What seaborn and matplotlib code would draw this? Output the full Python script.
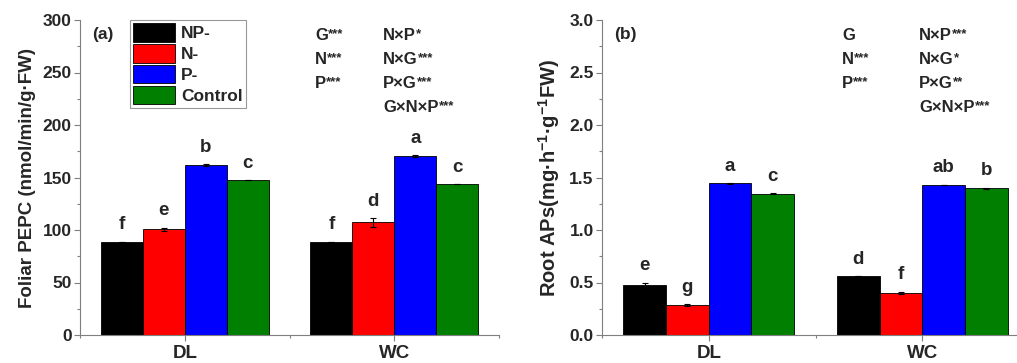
import matplotlib
matplotlib.use('Agg')
import matplotlib.pyplot as plt
import seaborn as sns
import pandas as pd
import numpy as np

# data
sites = ['DL', 'WC']
treatments = ['NP-', 'N-', 'P-', 'Control']
colors = ['#000000', '#FF0000', '#0000FF', '#007F00']

pepc_dl = [88.9, 100.6, 161.9, 147.3]
pepc_wc = [88.9, 107.3, 170.5, 143.8]
pepc_se_dl = [0.0, 1.5, 0.5, 0.0]
pepc_se_wc = [0.0, 4.0, 0.5, 0.0]
pepc_letters_dl = ['f', 'e', 'b', 'c']
pepc_letters_wc = ['f', 'd', 'a', 'c']

aps_dl = [0.475, 0.282, 1.443, 1.345]
aps_wc = [0.560, 0.402, 1.430, 1.399]
aps_se_dl = [0.025, 0.01, 0.003, 0.003]
aps_se_wc = [0.0, 0.012, 0.003, 0.005]
aps_letters_dl = ['e', 'g', 'a', 'c']
aps_letters_wc = ['d', 'f', 'ab', 'b']

# ANOVA terms and their significance stars
stats_a_col1 = [('G', '***'), ('N', '***'), ('P', '***')]
stats_a_col2 = [('N×P', '*'), ('N×G', '***'), ('P×G', '***'), ('G×N×P', '***')]
stats_b_col1 = [('G', ''), ('N', '***'), ('P', '***')]
stats_b_col2 = [('N×P', '***'), ('N×G', '*'), ('P×G', '**'), ('G×N×P', '***')]

sns.set_style('white')
plt.rcParams['font.family'] = ['Liberation Sans', 'DejaVu Sans']
plt.rcParams['font.weight'] = 'bold'
plt.rcParams['mathtext.fontset'] = 'custom'
plt.rcParams['mathtext.rm'] = 'Liberation Sans:bold'
plt.rcParams['mathtext.bf'] = 'Liberation Sans:bold'
plt.rcParams['mathtext.it'] = 'Liberation Sans:bold'
plt.rcParams['mathtext.default'] = 'rm'

AX_GRAY = '#7f7f7f'
W, H = 1017, 363


def make_df(dl, wc, se_dl, se_wc, let_dl, let_wc):
    rows = []
    for site, vals, ses, lets in [('DL', dl, se_dl, let_dl), ('WC', wc, se_wc, let_wc)]:
        for t, v, s, l in zip(treatments, vals, ses, lets):
            rows.append({'site': site, 'treatment': t, 'value': v, 'se': s, 'letter': l})
    return pd.DataFrame(rows)


def draw_panel(ax, df, ymax, ystep, ylabel, ylabel_size, tag, legend):
    sns.barplot(data=df, x='site', y='value', hue='treatment', order=sites,
                hue_order=treatments, palette=colors, errorbar=None,
                edgecolor='black', linewidth=0.6, saturation=1, ax=ax,
                legend=legend)
    # error bars and letters at bar positions
    for t, cont in zip(treatments, ax.containers):
        sub = df[df['treatment'] == t].set_index('site').loc[sites]
        xs = [p.get_x() + p.get_width() / 2 for p in cont.patches]
        ax.errorbar(xs, sub['value'], yerr=sub['se'], fmt='none', ecolor='black',
                    elinewidth=0.8, capsize=2.5, capthick=0.8)
        for x, v, s, l in zip(xs, sub['value'], sub['se'], sub['letter']):
            ax.annotate(l, (x, v + s), xytext=(0, 9), textcoords='offset points',
                        ha='center', va='baseline', fontsize=13.5, fontweight='bold')
    ax.set_xlim(-0.5, 1.5)
    ax.set_ylim(0, ymax)
    ax.set_yticks(np.arange(0, ymax + ystep / 2, ystep))
    ax.set_yticks(np.arange(ystep / 2, ymax, ystep), minor=True)
    ax.set_xticks([-0.5, 0.5, 1.5], minor=True)
    ax.set_xlabel('')
    ax.set_ylabel(ylabel, fontsize=ylabel_size, fontweight='bold', labelpad=5)
    sns.despine(ax=ax)
    for sp in ['left', 'bottom']:
        ax.spines[sp].set_color(AX_GRAY)
        ax.spines[sp].set_linewidth(0.8)
    ax.tick_params(axis='both', which='both', direction='out', color=AX_GRAY,
                   width=0.8, bottom=True, left=True)
    ax.tick_params(axis='both', which='major', length=4)
    ax.tick_params(axis='both', which='minor', length=2.2)
    ax.tick_params(axis='y', labelsize=12.5, pad=2)
    ax.tick_params(axis='x', labelsize=13.5, pad=3)
    for lab in ax.get_xticklabels() + ax.get_yticklabels():
        lab.set_fontweight('bold')
    ax.text(0.028, 0.955, tag, transform=ax.transAxes, fontsize=12.5,
            fontweight='bold', va='center', ha='left')
    return ax


fig = plt.figure(figsize=(W / 100, H / 100), dpi=100)
ax_a = fig.add_axes([80 / W, 28 / H, 419 / W, 315 / H])
ax_b = fig.add_axes([602 / W, 28 / H, 427 / W, 315 / H])

df_a = make_df(pepc_dl, pepc_wc, pepc_se_dl, pepc_se_wc, pepc_letters_dl, pepc_letters_wc)
df_b = make_df(aps_dl, aps_wc, aps_se_dl, aps_se_wc, aps_letters_dl, aps_letters_wc)

draw_panel(ax_a, df_a, 300, 50, 'Foliar PEPC (nmol/min/g·FW)', 13.5, '(a)', True)
draw_panel(ax_b, df_b, 3.0, 0.5, 'Root APs(mg·h$^{-1}$·g$^{-1}$FW)', 14.5, '(b)', False)
ax_b.set_yticklabels([f'{v:.1f}' for v in ax_b.get_yticks()], fontweight='bold')

leg = ax_a.legend(loc='upper left', bbox_to_anchor=(0.119, 1.0), frameon=True,
                  fancybox=False, edgecolor=AX_GRAY, borderpad=0.2,
                  borderaxespad=0, handlelength=2.4, handleheight=1.25,
                  labelspacing=0.14, handletextpad=0.35,
                  prop={'size': 12.5, 'weight': 'bold'})
leg.get_frame().set_linewidth(0.8)

# ANOVA significance text, base term plus small raised stars
renderer = fig.canvas.get_renderer()


def stats_text(x1, x2, col1, col2):
    rows = [35, 59, 83, 107]
    for xpix, col in [(x1, col1), (x2, col2)]:
        for y, (term, stars) in zip(rows, col):
            t = fig.text(xpix / W, 1 - y / H, term, fontsize=12, fontweight='bold',
                         va='center', ha='left')
            if stars:
                bb = t.get_window_extent(renderer)
                fig.text(bb.x1 / W, (bb.y1 - 1) / H, stars, fontsize=9.5,
                         fontweight='bold', va='top', ha='left')


stats_text(315, 383, stats_a_col1, stats_a_col2)
stats_text(842, 919, stats_b_col1, stats_b_col2)

fig.savefig('out.png', dpi=100)
